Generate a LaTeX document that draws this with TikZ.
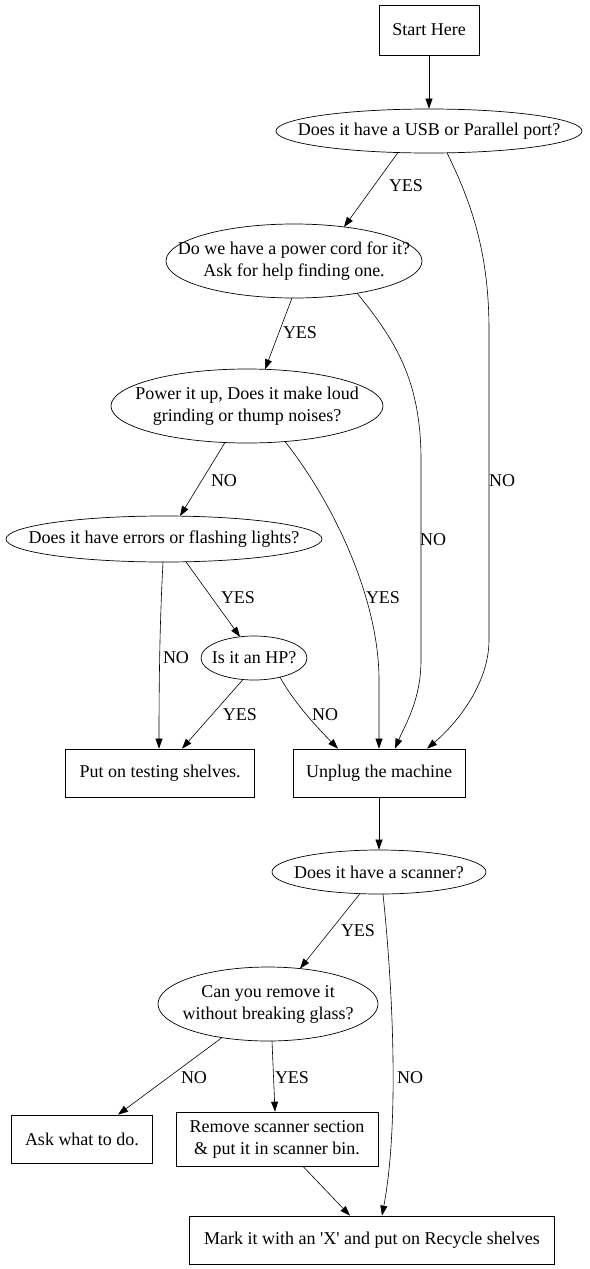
\documentclass[tikz,border=0pt]{standalone}
\usepackage{fontspec}
\setmainfont{Liberation Serif}
\usetikzlibrary{shapes.geometric,arrows.meta}
\begin{document}
\begin{tikzpicture}[x=1pt,y=-1pt,
  every node/.style={font=\fontsize{18}{22}\selectfont, align=center, inner sep=0pt},
  boxn/.style={draw, line width=0.7pt, rectangle},
  elln/.style={draw, line width=0.7pt, ellipse},
  lbl/.style={},
  edge/.style={draw, line width=0.6pt, -{Triangle[length=10pt,width=7pt]}}
]
\useasboundingbox[fill=white] (0,0) rectangle (589,1269);

% nodes
\node[boxn, minimum width=100pt, minimum height=50pt] (start) at (429,30) {Start Here};
\node[elln, minimum width=306pt, minimum height=44pt, label={[align=center]center:Does it have a USB or Parallel port?}] (usb) at (429,131) {};
\node[elln, minimum width=256pt, minimum height=74pt, label={[align=center]center:Do we have a power cord for it?\\Ask for help finding one.}] (cord) at (294,261) {};
\node[elln, minimum width=272pt, minimum height=74pt, label={[align=center]center:Power it up, Does it make loud\\grinding or thump noises?}] (power) at (247,406) {};
\node[elln, minimum width=316pt, minimum height=46pt, label={[align=center]center:Does it have errors or flashing lights?}] (errors) at (164,539) {};
\node[elln, minimum width=106pt, minimum height=44pt, label={[align=center]center:Is it an HP?}] (hp) at (254,658) {};
\node[boxn, minimum width=189pt, minimum height=48pt] (testing) at (160,773) {Put on testing shelves.};
\node[boxn, minimum width=172pt, minimum height=48pt] (unplug) at (379,773) {Unplug the machine};
\node[elln, minimum width=214pt, minimum height=44pt, label={[align=center]center:Does it have a scanner?}] (scanner) at (379,872) {};
\node[elln, minimum width=220pt, minimum height=74pt, label={[align=center]center:Can you remove it\\without breaking glass?}] (remq) at (268,1004) {};
\node[boxn, minimum width=141pt, minimum height=48pt] (ask) at (82,1139) {Ask what to do.};
\node[boxn, minimum width=202pt, minimum height=54pt] (remove) at (277,1139) {Remove scanner section\\\& put it in scanner bin.};
\node[boxn, minimum width=365pt, minimum height=48pt] (mark) at (372,1240) {Mark it with an \textquotesingle X\textquotesingle{} and put on Recycle shelves};

% edges
\draw[edge] (start) -- (usb);
\draw[edge] ([shift={(-31,21.5)}]usb.center) -- ([shift={(50,-34)}]cord.center);
\draw[edge] ([shift={(18,21.8)}]usb.center) .. controls (470,200) and (489,250) .. (489,330)
  -- (489,640) .. controls (489,685) and (455,725) .. ([xshift=48pt]unplug.north);
\draw[edge] ([shift={(-2,37)}]cord.center) -- ([shift={(18,-36.6)}]power.center);
\draw[edge] ([shift={(63,32)}]cord.center) .. controls (395,340) and (421,380) .. (421,460)
  -- (421,660) .. controls (421,700) and (405,725) .. ([xshift=16pt]unplug.north);
\draw[edge] ([shift={(-22,36.5)}]power.center) -- ([shift={(16,-22.9)}]errors.center);
\draw[edge] ([shift={(38,35.5)}]power.center) .. controls (335,505) and (379,600) .. (379,680) -- (unplug.north);
\draw[edge] ([shift={(22,22.9)}]errors.center) -- ([shift={(-14,-21.2)}]hp.center);
\draw[edge] ([shift={(-1,23)}]errors.center) .. controls (161,600) and (159,650) .. ([xshift=-1pt]testing.north);
\draw[edge] ([shift={(-11,21.5)}]hp.center) -- ([xshift=22pt]testing.north);
\draw[edge] ([shift={(26,19.2)}]hp.center) .. controls (290,695) and (305,715) .. ([xshift=-41pt]unplug.north);
\draw[edge] (unplug) -- (scanner);
\draw[edge] ([shift={(-19,21.6)}]scanner.center) -- ([shift={(32,-35.4)}]remq.center);
\draw[edge] ([shift={(4,22)}]scanner.center) .. controls (392,980) and (400,1120) .. ([xshift=10pt]mark.north);
\draw[edge] ([shift={(-46,33.6)}]remq.center) -- ([xshift=36pt]ask.north);
\draw[edge] ([shift={(4,37)}]remq.center) -- ([xshift=-2pt]remove.north);
\draw[edge] ([xshift=26pt]remove.south) -- ([xshift=-22pt]mark.north);

% labels
\node[lbl] (l1) at (406,186) {YES};
\node[lbl] (l2) at (502,481) {NO};
\node[lbl] (l3) at (300,333) {YES};
\node[lbl] (l4) at (433,540) {NO};
\node[lbl] (l5) at (224,481) {NO};
\node[lbl] (l6) at (383,598) {YES};
\node[lbl] (l7) at (238,598) {YES};
\node[lbl] (l8) at (176,658) {NO};
\node[lbl] (l9) at (240,715) {YES};
\node[lbl] (l10) at (325,715) {NO};
\node[lbl] (l11) at (358,931) {YES};
\node[lbl] (l12) at (410,1078) {NO};
\node[lbl] (l13) at (194,1078) {NO};
\node[lbl] (l14) at (292,1078) {YES};
\end{tikzpicture}
\end{document}
